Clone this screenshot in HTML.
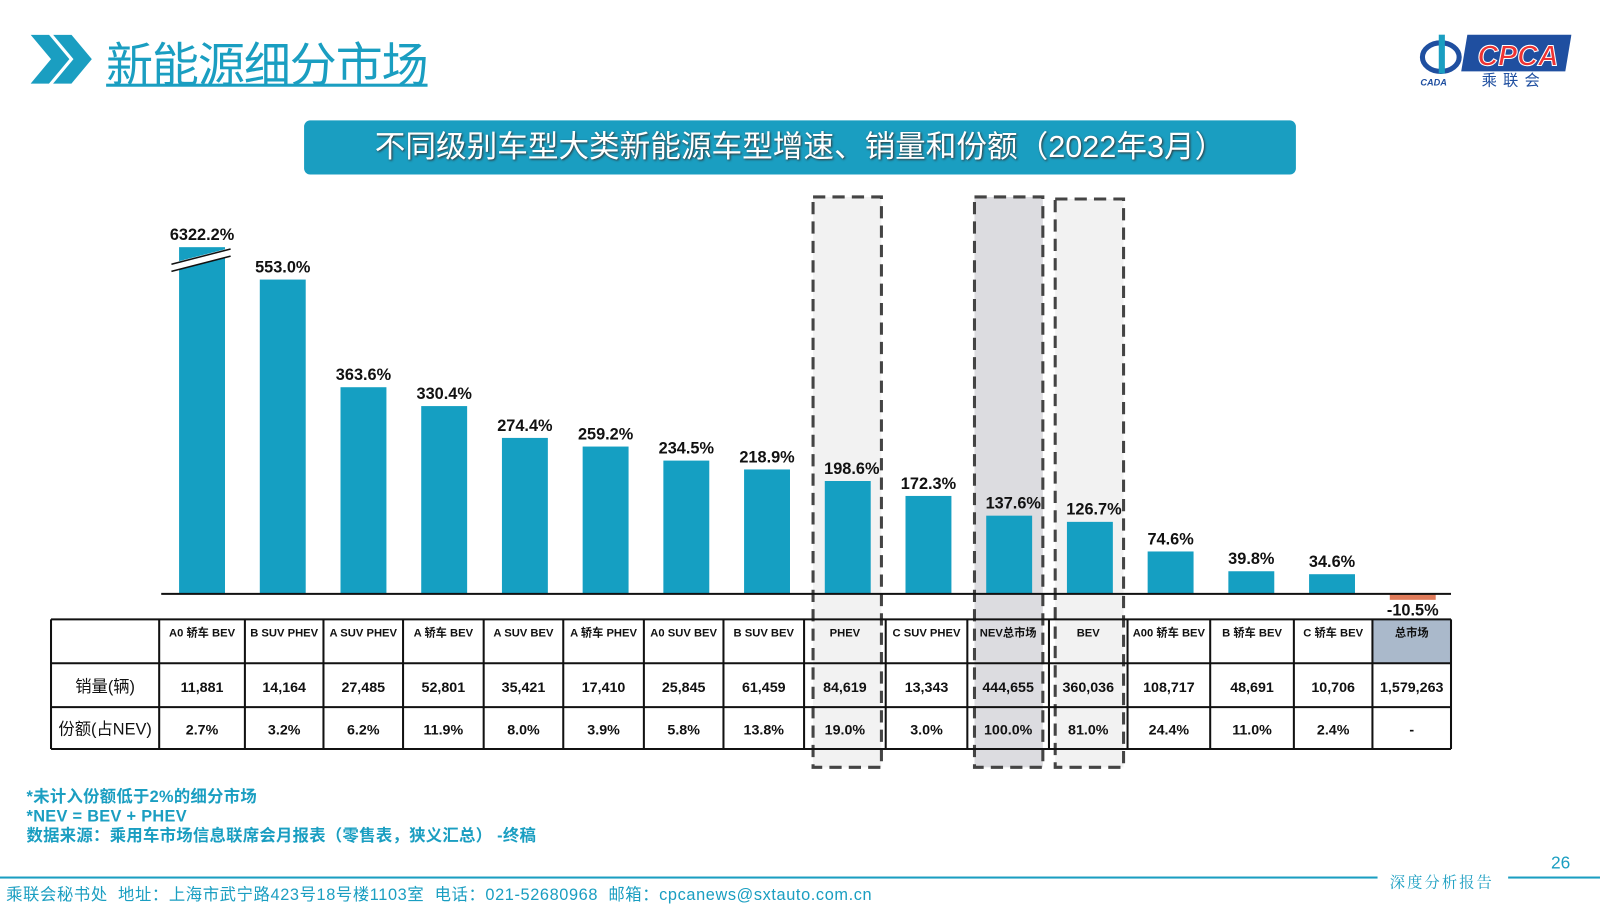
<!DOCTYPE html>
<html><head><meta charset="utf-8"><style>
body{margin:0;width:1600px;height:903px;background:#fff;position:relative;overflow:hidden;font-family:"Liberation Sans","Noto Sans CJK SC",sans-serif}
#wrap{position:absolute;left:0;top:0;width:1568px;height:885px;transform:scale(1.0204);transform-origin:0 0}
.abs{position:absolute}
</style></head><body>
<div id="wrap">
<div class="abs" style="left:30px;top:34px">
<svg width="70" height="50"><polygon points="0,0 18,0 38,24 18,48 0,48 20,24" fill="#1a9ec1"/><polygon points="22,0 40,0 60,24 40,48 22,48 42,24" fill="#1a9ec1"/></svg></div>
<div class="abs" style="left:104px;top:28px;font-size:46px;color:#1a9ec1;text-decoration:underline;text-decoration-thickness:3px;letter-spacing:-1px">新能源细分市场</div>
<div class="abs" style="left:1390px;top:32px;width:150px;height:55px">
<svg width="150" height="55"><ellipse cx="22" cy="24" rx="18" ry="14" fill="none" stroke="#1f4fa0" stroke-width="5"/><rect x="20" y="2" width="6" height="38" fill="#1a9ec1"/><text x="2" y="52" font-size="9" font-style="italic" font-weight="bold" fill="#1f4fa0">CADA</text><polygon points="48,2 150,2 144,38 42,38" fill="#1f4fa0"/><text x="58" y="32" font-size="28" font-style="italic" font-weight="bold" fill="#e33" stroke="#fff" stroke-width="1">CPCA</text><text x="62" y="52" font-size="15" fill="#1f4fa0" letter-spacing="6">乘联会</text></svg></div>
<div class="abs" style="left:298px;top:118px;width:972px;height:53px;background:#1a9ec1;border-radius:6px;color:#fff;font-size:30px;line-height:53px;text-align:center;text-shadow:1px 1px 2px #333">不同级别车型大类新能源车型增速、销量和份额（2022年3月）</div>
<svg class="abs" style="left:0;top:0" width="1568" height="885" id="chart"></svg>
<div class="abs" style="left:26px;top:772px;font-size:16px;font-weight:bold;color:#1a9ec1;line-height:19px;letter-spacing:0.3px">*未计入份额低于2%的细分市场<br>*NEV = BEV + PHEV<br>数据来源：乘用车市场信息联席会月报表（零售表，狭义汇总） -终稿</div>
<div class="abs" style="left:1520px;top:836px;font-size:17px;color:#1a9ec1">26</div>
<div class="abs" style="left:0;top:859px;width:1350px;height:2px;background:#1a9ec1"></div>
<div class="abs" style="left:1478px;top:859px;width:90px;height:2px;background:#1a9ec1"></div>
<div class="abs" style="left:1362px;top:854px;font-size:15px;color:#1a9ec1;font-family:'Noto Serif CJK SC',serif;letter-spacing:2px">深度分析报告</div>
<div class="abs" style="left:6px;top:863px;font-size:16px;color:#1a9ec1;letter-spacing:0.6px">乘联会秘书处&nbsp;&nbsp;地址：上海市武宁路423号18号楼1103室&nbsp;&nbsp;电话：021-52680968&nbsp;&nbsp;邮箱：cpcanews@sxtauto.com.cn</div>
</div>
<script>
const categories=["A0 轿车 BEV","B SUV PHEV","A SUV PHEV","A 轿车 BEV","A SUV BEV","A 轿车 PHEV","A0 SUV BEV","B SUV BEV","PHEV","C SUV PHEV","NEV总市场","BEV","A00 轿车 BEV","B 轿车 BEV","C 轿车 BEV","总市场"];
const growth=[6322.2,553.0,363.6,330.4,274.4,259.2,234.5,218.9,198.6,172.3,137.6,126.7,74.6,39.8,34.6,-10.5];
const sales=["11,881","14,164","27,485","52,801","35,421","17,410","25,845","61,459","84,619","13,343","444,655","360,036","108,717","48,691","10,706","1,579,263"];
const shares=["2.7%","3.2%","6.2%","11.9%","8.0%","3.9%","5.8%","13.8%","19.0%","3.0%","100.0%","81.0%","24.4%","11.0%","2.4%","-"];
const svg=document.getElementById('chart');const NS='http://www.w3.org/2000/svg';
function mk(t,a,p){const e=document.createElementNS(NS,t);for(const k in a)e.setAttribute(k,a[k]);(p||svg).appendChild(e);return e;}
const base=582,k=0.557,cap=610;
const xc=i=>198+i*79.1;const y=v=>base-Math.min(v,cap)*k;
const boxes=[[8,'#f2f2f2',193],[10,'#dcdce0',193],[11,'#f2f2f2',195]];
boxes.forEach(b=>{const r=mk('rect',{x:xc(b[0])-34,y:b[2],width:67,height:752-b[2],fill:b[1],stroke:'#444','stroke-width':3,'stroke-dasharray':'12,7'});

});
growth.forEach((v,i)=>{const top=y(v);const r=mk('rect',{x:xc(i)-22.5,y:Math.min(top,base),width:45,height:Math.max(Math.abs(base-top),1),fill:v<0?'#e07b5a':'#159fc2'});


const t=mk('text',{x:xc(i)+(i==8||i==10||i==11?4:0),y:v<0?base+21:top-7,'text-anchor':'middle','font-size':16,'font-weight':'bold',fill:'#111'});t.textContent=v.toFixed(1)+'%';

});
const bm=mk('g',{});
mk('line',{x1:168,y1:262,x2:226,y2:247,stroke:'#fff','stroke-width':8},bm);
mk('line',{x1:168,y1:259,x2:226,y2:244,stroke:'#111','stroke-width':1.5},bm);
mk('line',{x1:168,y1:266,x2:226,y2:251,stroke:'#111','stroke-width':1.5},bm);
const ax=mk('line',{x1:158,y1:base,x2:1422,y2:base,stroke:'#111','stroke-width':2});

const cols=[50,156,240,317,395,474,552,631,709,788,868,948,1028,1105,1186,1268,1345,1422];
const rows=[607,650,693,734];
const hc=mk('rect',{x:1345,y:607,width:77,height:43,fill:'#aab9cb'});
const tb=mk('g',{});
rows.forEach(r=>mk('line',{x1:50,y1:r,x2:1422,y2:r,stroke:'#111','stroke-width':2},tb));
cols.forEach(c=>mk('line',{x1:c,y1:607,x2:c,y2:734,stroke:'#111','stroke-width':2},tb));
function txt(x,yy,s,fs,fw){const t=mk('text',{x:x,y:yy,'text-anchor':'middle','font-size':fs,'font-weight':fw||'normal',fill:'#111'},tb);t.textContent=s;return t;}
txt(103,678,'销量(辆)',16);txt(103,720,'份额(占NEV)',16);
categories.forEach((c,i)=>{const cx=(cols[i+1]+cols[i+2])/2;
txt(cx,624,c,11,'bold');txt(cx,678,sales[i],14,'bold');txt(cx,720,shares[i],14,'bold');});
</script>
</body></html>
